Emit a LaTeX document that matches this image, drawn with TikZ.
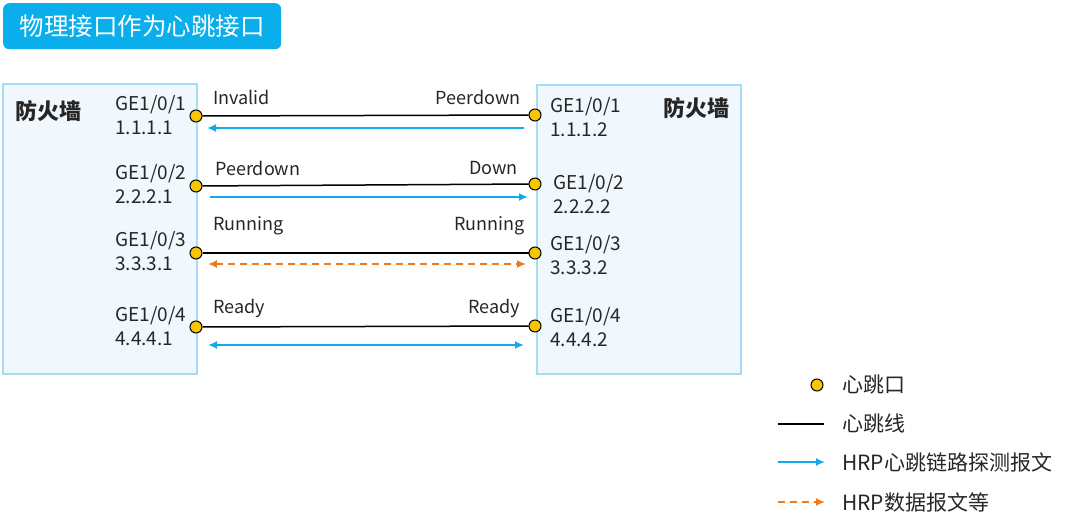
\documentclass[tikz,border=0pt]{standalone}
\usepackage{fontspec}
\setmainfont{Noto Sans CJK SC}
\usepackage{xcolor}
\usetikzlibrary{positioning, arrows.meta}
\definecolor{titleblue}{HTML}{0AAEEA}
\definecolor{boxfill}{HTML}{F1F8FD}
\definecolor{boxline}{HTML}{A6DDF5}
\definecolor{portyellow}{HTML}{F7C600}
\definecolor{hrpblue}{HTML}{12AAEB}
\definecolor{hrporange}{HTML}{EE7A1E}
\definecolor{textgrey}{HTML}{262626}

\tikzset{
  fwbox/.style={fill=boxfill, draw=boxline, line width=1.5pt},
  port/.style={circle, fill=portyellow, draw=black, line width=1pt,
               minimum size=12pt, inner sep=0pt},
  portlabel/.style={align=left, inner sep=0pt, text=textgrey,
                    font=\fontsize{19}{24}\selectfont},
  state/.style={inner sep=0pt, text=textgrey, font=\fontsize{18}{20}\selectfont},
  hbline/.style={draw=black, line width=1.5pt},
  probe/.style={draw=hrpblue, line width=2pt, -{Latex[length=9pt,width=8pt]}},
  dataflow/.style={draw=hrporange, line width=2pt, dash pattern=on 7pt off 5pt,
                   -{Latex[length=9pt,width=8pt]}},
  legendtext/.style={anchor=west, inner sep=0pt, text=textgrey,
                     font=\fontsize{21}{23}\selectfont}
}

\begin{document}
\begin{tikzpicture}[x=1pt, y=-1pt]
  \useasboundingbox (0,0) rectangle (1080,529);

  % title
  \node[fill=titleblue, rounded corners=6pt, text=white, anchor=north west,
        minimum width=278pt, minimum height=46pt,
        font=\fontsize{24.5}{26}\selectfont] (title) at (3,3) {物理接口作为心跳接口};

  % firewalls
  \draw[fwbox] (3,84) rectangle (197,374);
  \draw[fwbox] (537,85) rectangle (741,374);
  \node[anchor=west, inner sep=0pt, font=\fontsize{22}{24}\selectfont\bfseries, text=textgrey] (fwleft) at (15,111) {防火墙};
  \node[anchor=east, inner sep=0pt, font=\fontsize{22}{24}\selectfont\bfseries, text=textgrey] (fwright) at (730,108) {防火墙};

  % heartbeat ports
  \node[port] (lp1) at (196,116) {};
  \node[port] (lp2) at (196,186) {};
  \node[port] (lp3) at (196,253) {};
  \node[port] (lp4) at (196,327) {};
  \node[port] (rp1) at (535,115) {};
  \node[port] (rp2) at (535,184) {};
  \node[port] (rp3) at (535,253) {};
  \node[port] (rp4) at (535,326) {};

  \node[portlabel, anchor=west] (ll1) at (115,115) {GE1/0/1\\1.1.1.1};
  \node[portlabel, anchor=west] (ll2) at (115,184) {GE1/0/2\\2.2.2.1};
  \node[portlabel, anchor=west] (ll3) at (115,251) {GE1/0/3\\3.3.3.1};
  \node[portlabel, anchor=west] (ll4) at (115,326) {GE1/0/4\\4.4.4.1};
  \node[portlabel, anchor=west] (rl1) at (550,117) {GE1/0/1\\1.1.1.2};
  \node[portlabel, anchor=west] (rl2) at (553,194) {GE1/0/2\\2.2.2.2};
  \node[portlabel, anchor=west] (rl3) at (550,255) {GE1/0/3\\3.3.3.2};
  \node[portlabel, anchor=west] (rl4) at (550,327) {GE1/0/4\\4.4.4.2};

  % heartbeat lines
  \foreach \i in {1,...,4}
    \draw[hbline] (lp\i) -- (rp\i);

  % states
  \node[state, anchor=west] (sl1) at (213,97) {Invalid};
  \node[state, anchor=east] (sr1) at (521,97) {Peerdown};
  \node[state, anchor=west] (sl2) at (215,168) {Peerdown};
  \node[state, anchor=east] (sr2) at (518,168) {Down};
  \node[state, anchor=west] (sl3) at (213,226) {Running};
  \node[state, anchor=east] (sr3) at (525,226) {Running};
  \node[state, anchor=west] (sl4) at (213,308) {Ready};
  \node[state, anchor=east] (sr4) at (520,308) {Ready};

  % packets
  \coordinate (a1l) at (207,128);  \coordinate (a1r) at (524,128);
  \coordinate (a2l) at (210,197);  \coordinate (a2r) at (528,197);
  \coordinate (a3l) at (208,264);  \coordinate (a3r) at (526,264);
  \coordinate (a4l) at (208,345);  \coordinate (a4r) at (524,345);
  \draw[probe] (a1r) -- (a1l);
  \draw[probe] (a2l) -- (a2r);
  \draw[dataflow, {Latex[length=9pt,width=8pt]}-{Latex[length=9pt,width=8pt]}] (a3l) -- (a3r);
  \draw[probe, {Latex[length=9pt,width=8pt]}-{Latex[length=9pt,width=8pt]}] (a4l) -- (a4r);

  % legend
  \node[port] (kport) at (817,385) {};
  \node[legendtext] (tport) at (842,385) {心跳口};
  \coordinate (k2a) at (778,424); \coordinate (k2b) at (824,424);
  \draw[hbline] (k2a) -- (k2b);
  \node[legendtext] (tline) at (842,424) {心跳线};
  \coordinate (k3a) at (778,462); \coordinate (k3b) at (825,462);
  \draw[probe] (k3a) -- (k3b);
  \node[legendtext] (tprobe) at (842,462) {HRP心跳链路探测报文};
  \coordinate (k4a) at (778,502); \coordinate (k4b) at (825,502);
  \draw[dataflow] (k4a) -- (k4b);
  \node[legendtext] (tdata) at (842,502) {HRP数据报文等};
\end{tikzpicture}
\end{document}
